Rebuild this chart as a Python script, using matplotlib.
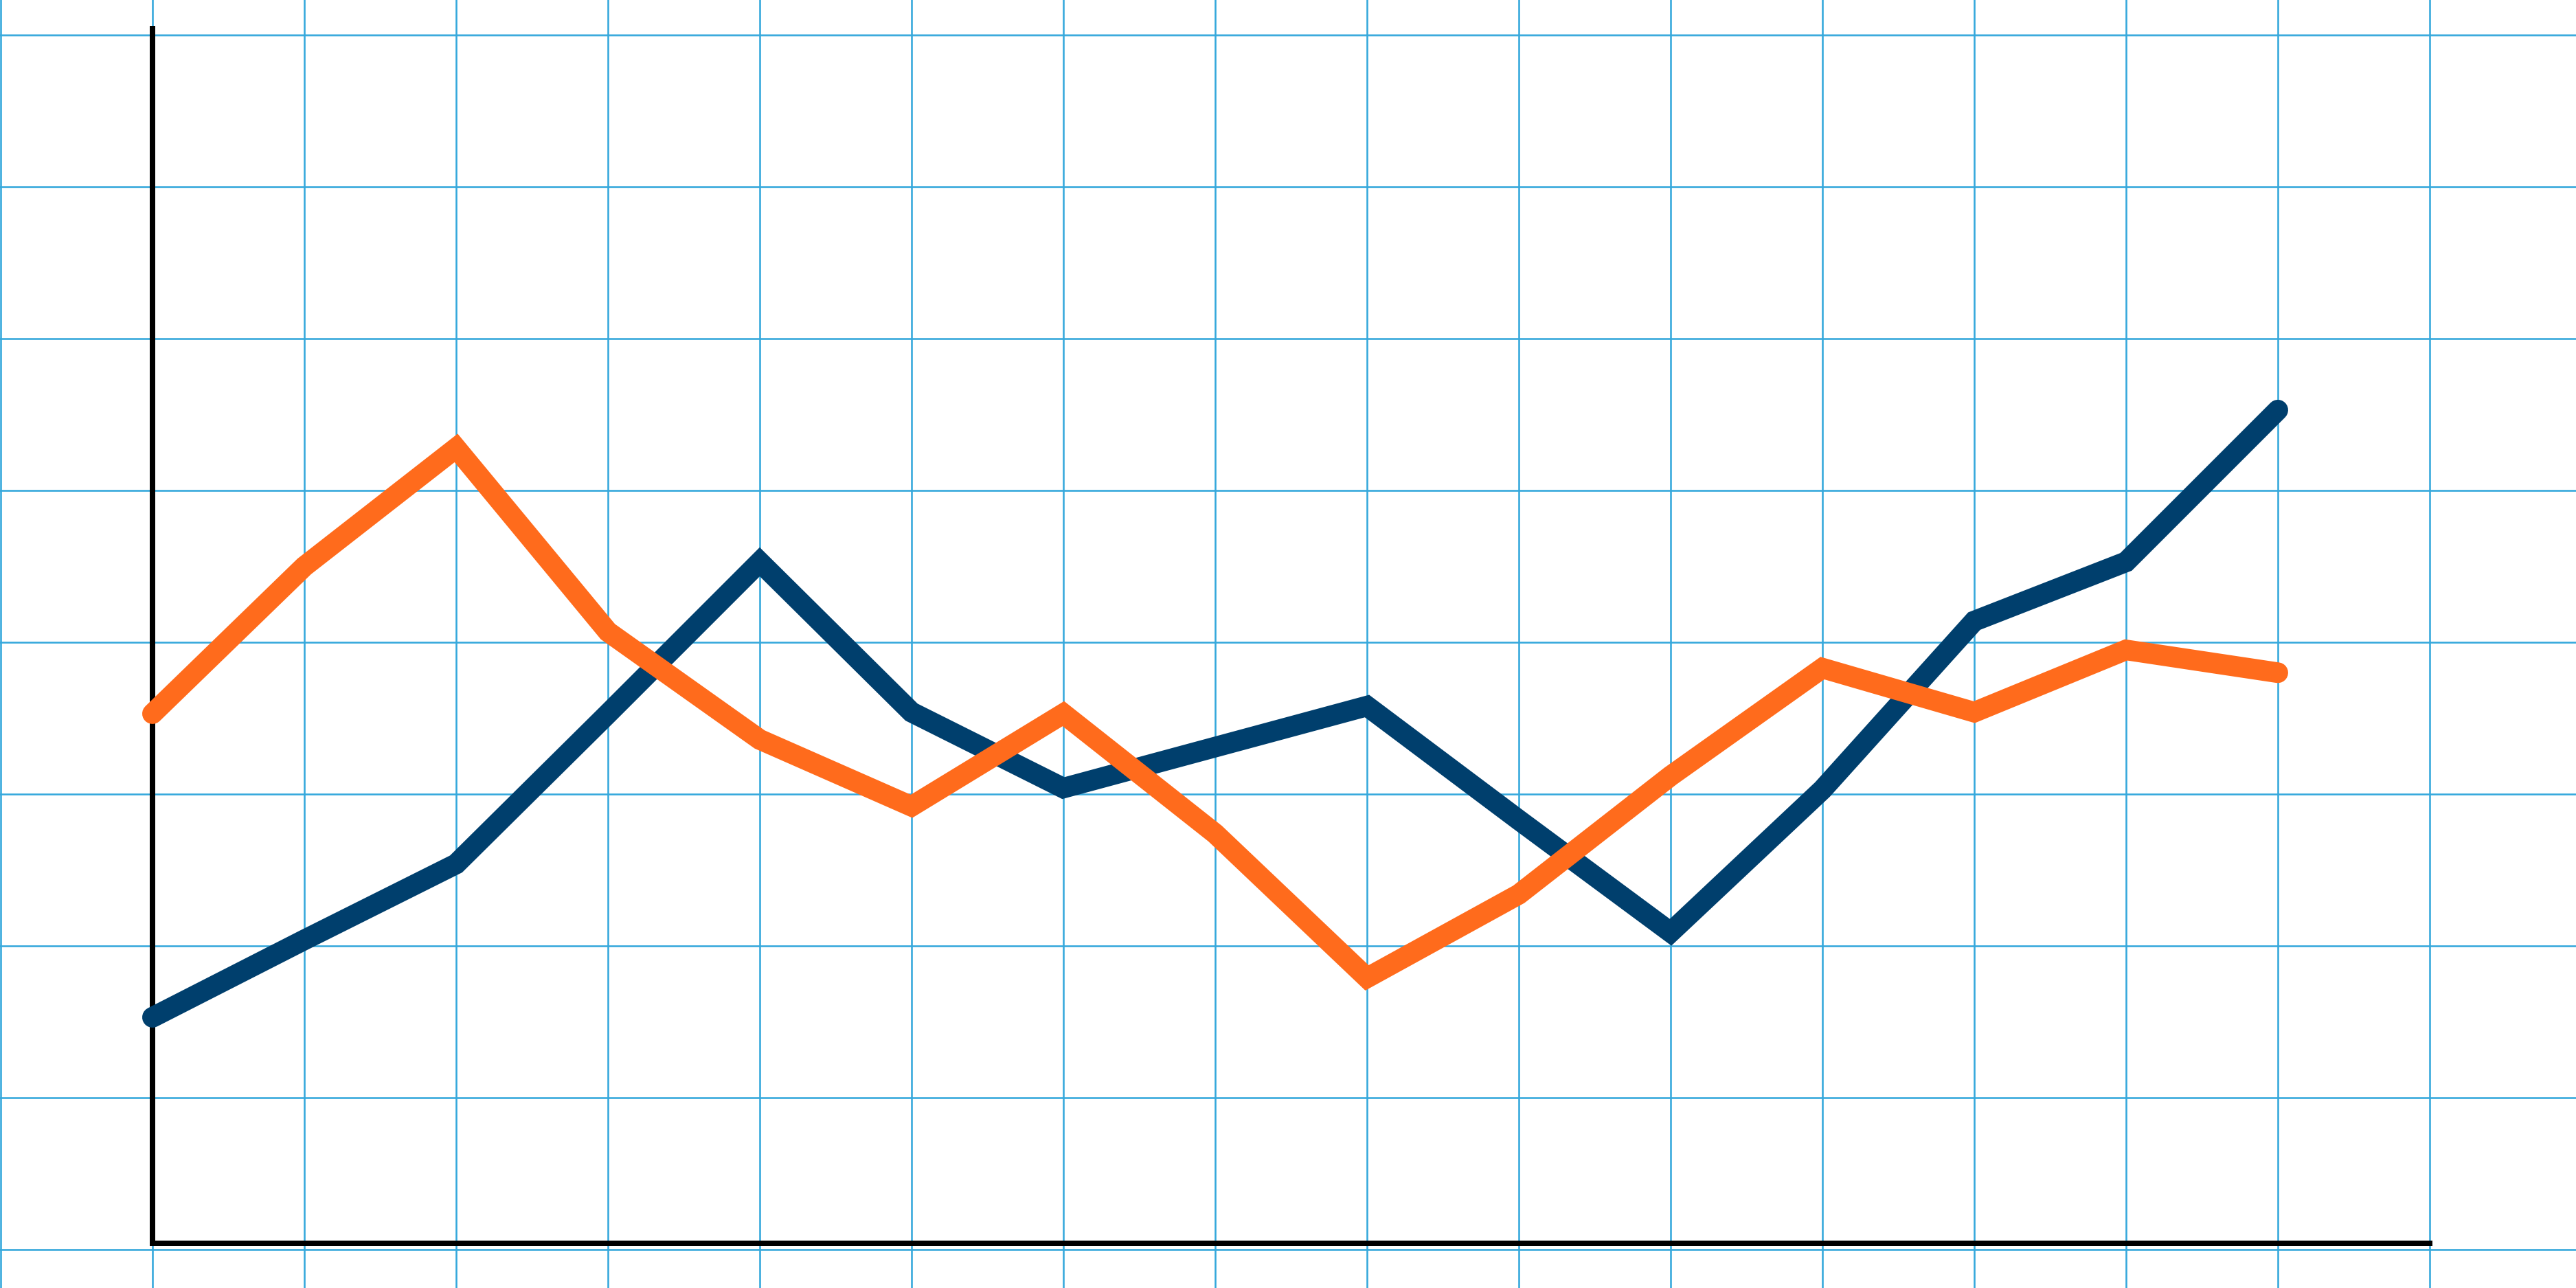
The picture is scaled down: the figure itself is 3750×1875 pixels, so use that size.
import matplotlib
matplotlib.use("Agg")
import matplotlib.pyplot as plt

# ── data (one point per grid column) ────────────────────────────────────────
x_points = list(range(15))
blue_values = [1.53, 2.04, 2.54, 3.53, 4.53, 3.54, 3.04, 3.31, 3.58,
               2.83, 2.09, 3.03, 4.14, 4.53, 5.53]
orange_values = [3.53, 4.50, 5.28, 4.07, 3.36, 2.92, 3.53, 2.74, 1.79,
                 2.34, 3.12, 3.83, 3.54, 3.95, 3.80]
grid_x = list(range(-1, 16))
grid_y = list(range(0, 9))

BLUE = "#003f6d"
ORANGE = "#ff6b1c"
GRID = "#35a8dc"
DPI = 250
px = 72 / DPI  # one output pixel in points

fig = plt.figure(figsize=(15, 7.5), dpi=DPI)
ax = fig.add_axes([0, 0, 1, 1])
ax.set_xlim(-1.0045, 15.964)
ax.set_ylim(-0.253, 8.231)

# graph-paper grid
ax.set_xticks(grid_x)
ax.set_yticks(grid_y)
ax.tick_params(length=0, labelbottom=False, labelleft=False)
ax.grid(True, color=GRID, linewidth=2.6 * px)
ax.set_axisbelow(True)

# black axis lines
for side in ("top", "right"):
    ax.spines[side].set_visible(False)
ax.spines["left"].set_position(("data", 0))
ax.spines["left"].set_bounds(0.04, 8.04)
ax.spines["bottom"].set_position(("data", 0.04))
ax.spines["bottom"].set_bounds(0, 15)
for side in ("left", "bottom"):
    ax.spines[side].set_linewidth(8 * px)
    ax.spines[side].set_color("black")

# series
ax.plot(x_points, blue_values, color=BLUE, linewidth=30 * px,
        solid_capstyle="round", solid_joinstyle="miter", zorder=3)
ax.plot(x_points, orange_values, color=ORANGE, linewidth=30 * px,
        solid_capstyle="round", solid_joinstyle="miter", zorder=4)

fig.savefig("out.png", dpi=DPI, facecolor="white")
